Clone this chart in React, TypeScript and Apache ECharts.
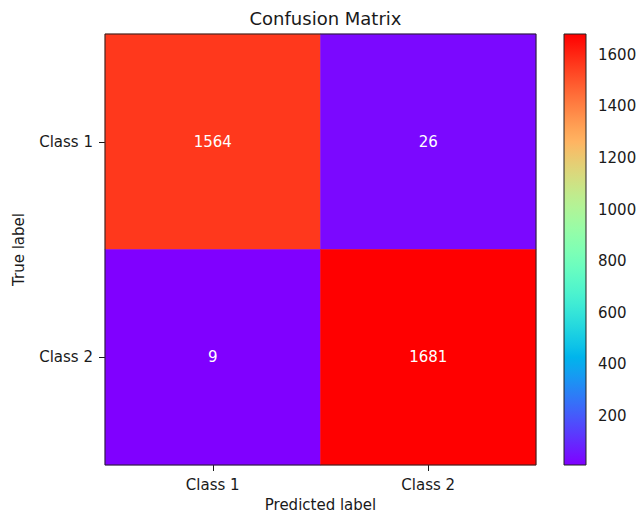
import React, { useEffect, useRef } from "react";
import * as echarts from "echarts";

const predictedClasses = ["Class 1", "Class 2"];
const trueClasses = ["Class 1", "Class 2"];
// [predictedIndex, trueIndex, count]
const cells: [number, number, number][] = [
  [0, 0, 1564],
  [1, 0, 26],
  [0, 1, 9],
  [1, 1, 1681],
];
const colorbarTicks = [200, 400, 600, 800, 1000, 1200, 1400, 1600];

// matplotlib "rainbow" colormap
function rainbow(x: number): string {
  const clip = (v: number) => Math.max(0, Math.min(1, v));
  const r = clip(Math.abs(2 * x - 0.5));
  const g = clip(Math.sin(Math.PI * x));
  const b = clip(Math.cos((Math.PI * x) / 2));
  const h = (v: number) => Math.round(v * 255).toString(16).padStart(2, "0");
  return "#" + h(r) + h(g) + h(b);
}
const N_STOPS = 41;
const rainbowColors = Array.from({ length: N_STOPS }, (_, i) => rainbow(i / (N_STOPS - 1)));

const FONT = "DejaVu Sans";
const TXT = "#1a1a1a";

export default function App() {
  const ref = useRef<HTMLDivElement>(null);
  useEffect(() => {
    if (!ref.current) return;
    const chart = echarts.init(ref.current, null, { renderer: "svg" });
    const values = cells.map((c) => c[2]);
    const vMin = Math.min(...values);
    const vMax = Math.max(...values);

    const gridL = 105, gridT = 34, gridW = 431, gridH = 431;
    const cbL = 564, cbW = 22;

    chart.setOption({
      animation: false,
      backgroundColor: "#ffffff",
      textStyle: { fontFamily: FONT },
      title: {
        text: "Confusion Matrix",
        left: gridL + gridW / 2,
        textAlign: "center",
        top: 4,
        textStyle: { fontFamily: FONT, fontSize: 18, fontWeight: "normal", color: TXT },
      },
      grid: [
        { left: gridL, top: gridT, width: gridW, height: gridH, outerBoundsMode: "none", containLabel: false },
        { left: cbL, top: gridT, width: cbW, height: gridH, outerBoundsMode: "none", containLabel: false },
      ],
      xAxis: [
        {
          type: "category",
          data: predictedClasses,
          gridIndex: 0,
          name: "Predicted label",
          nameLocation: "middle",
          nameGap: 32,
          nameTextStyle: { fontFamily: FONT, fontSize: 15, color: TXT },
          axisLine: { show: false },
          axisTick: { show: true, alignWithLabel: true, length: 6, lineStyle: { color: TXT } },
          axisLabel: { fontFamily: FONT, fontSize: 15, color: TXT, margin: 12 },
          splitArea: { show: false },
          splitLine: { show: false },
        },
        { type: "value", gridIndex: 1, show: false, min: 0, max: 1 },
      ],
      yAxis: [
        {
          type: "category",
          data: trueClasses,
          inverse: true,
          gridIndex: 0,
          name: "True label",
          nameLocation: "middle",
          nameGap: 79,
          nameRotate: 90,
          nameTextStyle: { fontFamily: FONT, fontSize: 15, color: TXT },
          axisLine: { show: false },
          axisTick: { show: true, alignWithLabel: true, length: 6, lineStyle: { color: TXT } },
          axisLabel: { fontFamily: FONT, fontSize: 15, color: TXT, margin: 12 },
          splitArea: { show: false },
          splitLine: { show: false },
        },
        {
          type: "value",
          gridIndex: 1,
          position: "right",
          min: vMin,
          max: vMax,
          axisLine: { show: false },
          splitLine: { show: false },
          axisTick: { show: true, length: 6, lineStyle: { color: TXT }, customValues: colorbarTicks },
          axisLabel: {
            fontFamily: FONT,
            fontSize: 15,
            color: TXT,
            margin: 12,
            customValues: colorbarTicks,
            formatter: (v: number) => String(v),
          },
        },
      ],
      visualMap: {
        show: false,
        type: "continuous",
        min: vMin,
        max: vMax,
        seriesIndex: 0,
        dimension: 2,
        inRange: { color: rainbowColors },
      },
      series: [
        {
          type: "heatmap",
          xAxisIndex: 0,
          yAxisIndex: 0,
          data: cells,
          label: {
            show: true,
            color: "#ffffff",
            fontFamily: FONT,
            fontSize: 15,
            formatter: (p: any) => String(p.value[2]),
          },
          emphasis: { disabled: true },
        },
      ],
      graphic: [
        {
          type: "rect",
          shape: { x: gridL, y: gridT, width: gridW, height: gridH },
          style: { fill: "none", stroke: "#222", lineWidth: 1 },
          z: 100,
        },
        {
          type: "rect",
          shape: { x: cbL, y: gridT, width: cbW, height: gridH },
          style: {
            fill: new echarts.graphic.LinearGradient(
              0, 0, 0, 1,
              rainbowColors
                .map((c, i) => ({ offset: 1 - i / (N_STOPS - 1), color: c }))
                .reverse()
            ),
            stroke: "#222",
            lineWidth: 1,
          },
          z: 100,
        },
      ],
    });
    return () => chart.dispose();
  }, []);
  return (
    <div
      ref={ref}
      style={{ position: "fixed", left: 0, top: 0, width: 639, height: 514 }}
    />
  );
}
